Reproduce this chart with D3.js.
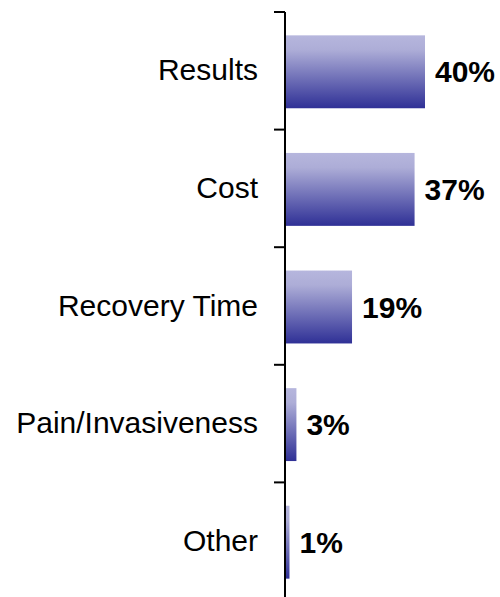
<!DOCTYPE html>
<html>
<head>
<meta charset="utf-8">
<script src="https://cdn.jsdelivr.net/npm/d3@7"></script>
<style>
  html, body { margin: 0; padding: 0; background: #fff; }
  svg { display: block; }
</style>
</head>
<body>
<svg id="chart" width="500" height="597"></svg>
<script>
const categories = ["Results", "Cost", "Recovery Time", "Pain/Invasiveness", "Other"];
const values = [40, 37, 19, 3, 1];
const valueLabels = ["40%", "37%", "19%", "3%", "1%"];

const svg = d3.select("#chart");
const axisX = 285;

const y = d3.scaleBand()
  .domain(categories)
  .range([12, 600])
  .paddingInner(0.38)
  .paddingOuter(0.19);

const x = d3.scaleLinear().domain([0, 40]).range([286, 425]);

const defs = svg.append("defs");
const grad = defs.append("linearGradient")
  .attr("id", "barGrad").attr("x1", 0).attr("y1", 0).attr("x2", 0).attr("y2", 1);
grad.append("stop").attr("offset", "0").attr("stop-color", "#b6b6dd");
grad.append("stop").attr("offset", "0.2").attr("stop-color", "#adadd7");
grad.append("stop").attr("offset", "1").attr("stop-color", "#2f3096");

// bars
svg.selectAll("rect.bar").data(categories).enter().append("rect")
  .attr("class", "bar")
  .attr("x", x(0))
  .attr("y", d => y(d) + 1)
  .attr("width", (d, i) => x(values[i]) - x(0))
  .attr("height", y.bandwidth())
  .attr("fill", "url(#barGrad)");

// axis line with ticks at band boundaries
const axisG = svg.append("g").attr("transform", `translate(${axisX},0)`);
axisG.append("line")
  .attr("x1", 0).attr("x2", 0)
  .attr("y1", y.range()[0]).attr("y2", y.range()[1])
  .attr("stroke", "#000").attr("stroke-width", 2);
const bounds = d3.range(categories.length + 1).map(i => y.range()[0] + i * y.step());
axisG.selectAll("line.tick").data(bounds).enter().append("line")
  .attr("class", "tick")
  .attr("x1", -11).attr("x2", 0)
  .attr("y1", d => d).attr("y2", d => d)
  .attr("stroke", "#000").attr("stroke-width", 2);

// category labels
svg.selectAll("text.cat").data(categories).enter().append("text")
  .attr("class", "cat")
  .attr("x", 258)
  .attr("y", d => y(d) + y.bandwidth() / 2)
  .attr("dy", "0.32em")
  .attr("text-anchor", "end")
  .attr("font-family", "Liberation Sans, Arial, sans-serif")
  .attr("font-size", 30)
  .attr("fill", "#000")
  .text(d => d);

// value labels
svg.selectAll("text.val").data(categories).enter().append("text")
  .attr("class", "val")
  .attr("x", (d, i) => x(values[i]) + 10)
  .attr("y", d => y(d) + y.bandwidth() / 2 + 1)
  .attr("dy", "0.35em")
  .attr("font-family", "Liberation Sans, Arial, sans-serif")
  .attr("font-weight", "bold")
  .attr("font-size", 30)
  .attr("fill", "#000")
  .text((d, i) => valueLabels[i]);
</script>
</body>
</html>
